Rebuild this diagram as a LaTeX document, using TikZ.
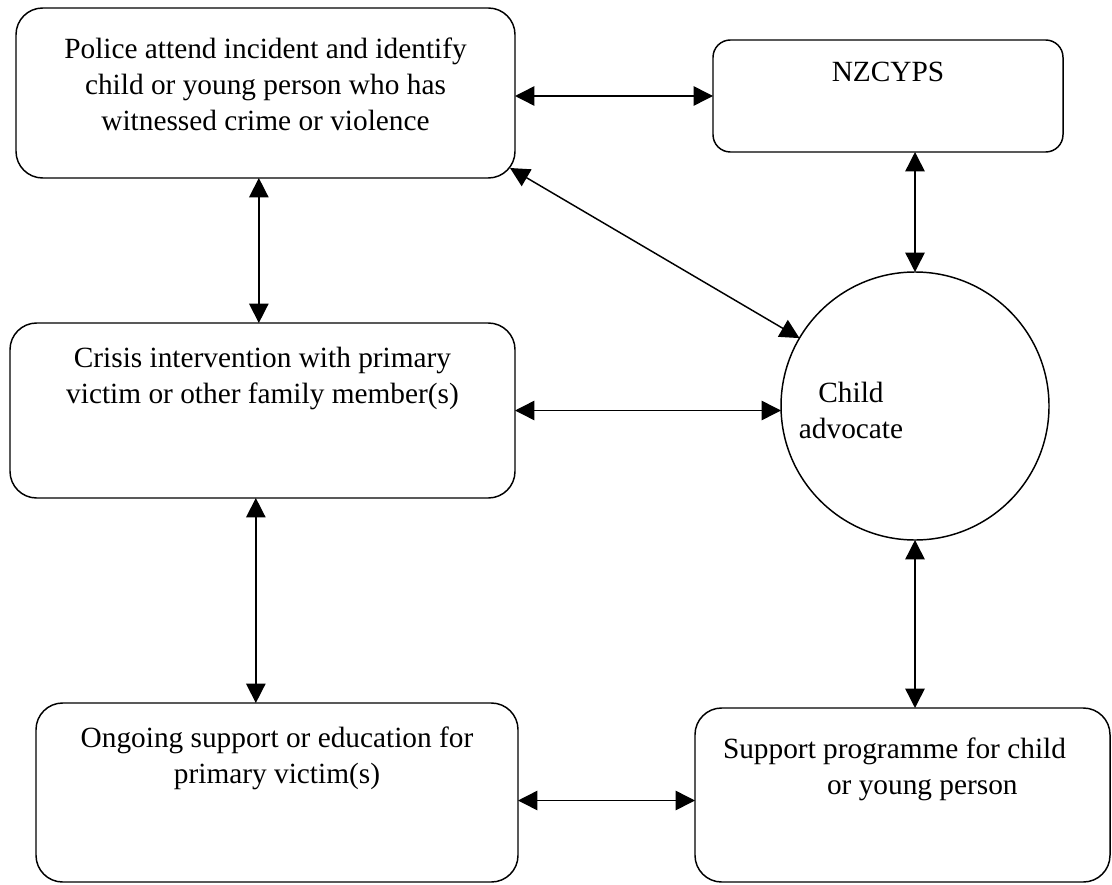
\documentclass[tikz,border=0pt]{standalone}
\usepackage{fontspec}
\setmainfont{Liberation Serif}
\usetikzlibrary{arrows.meta}
\newlength\pxu
\setlength\pxu{0.75pt}
\tikzset{
  box/.style={draw, line width=1.1pt, rounded corners=20pt, inner sep=0pt, outer sep=0pt,
    anchor=north west, font=\fontsize{22pt}{27pt}\selectfont},
  advbox/.style={draw, circle, line width=1.1pt, inner sep=0pt, outer sep=0pt,
    minimum size=201pt},
  advtxt/.style={font=\fontsize{22pt}{27pt}\selectfont, align=center, inner sep=0pt},
  arr/.style={line width=1.1pt, {Triangle[length=14.5pt,width=14.5pt]}-{Triangle[length=14.5pt,width=14.5pt]}}
}
\begin{document}
\begin{tikzpicture}[x=0.75pt,y=-0.75pt]
\useasboundingbox (0,0) rectangle (1112,884);
\node[box] (police) at (16,8)
  {\parbox[c][170\pxu][t]{499\pxu}{\centering\vspace*{30\pxu}Police attend incident and identify\\child or young person who has\\witnessed crime or violence}};
\node[box, rounded corners=13pt] (nzcyps) at (713,40)
  {\parbox[c][112\pxu][t]{350\pxu}{\centering\vspace*{22\pxu}NZCYPS}};
\node[box] (crisis) at (10,323)
  {\parbox[c][175\pxu][t]{505\pxu}{\centering\vspace*{24\pxu}Crisis intervention with primary\\victim or other family member(s)}};
\node[box] (ongoing) at (36,703)
  {\parbox[c][179\pxu][t]{482\pxu}{\centering\vspace*{24\pxu}Ongoing support or education for\\primary victim(s)}};
\node[box] (support) at (695,708)
  {\parbox[c][174\pxu][t]{415\pxu}{\vspace*{30\pxu}\hspace*{28\pxu}Support programme for child\\\hspace*{132\pxu}or young person}};
\node[advbox, label={[advtxt, xshift=-48pt, yshift=-3pt]center:{Child\\advocate}}] (adv) at (915,406) {};

\draw[arr] (police.east |- nzcyps.west) -- (nzcyps.west);
\draw[arr] ([xshift=-5pt]police.south) -- ([xshift=-5pt]police.south |- crisis.north);
\draw[arr] ([xshift=-5pt]crisis.south) -- ([xshift=-5pt]crisis.south |- ongoing.north);
\draw[arr] ([shift={(-5,-10)}]police.south east) -- (adv);
\draw[arr] (crisis.east) -- (crisis.east -| adv.west);
\draw[arr] (nzcyps.south -| adv.north) -- (adv.north);
\draw[arr] (adv.south) -- (adv.south |- support.north);
\draw[arr] ([yshift=-6pt]ongoing.east) -- ([yshift=-6pt]ongoing.east -| support.west);
\end{tikzpicture}
\end{document}
